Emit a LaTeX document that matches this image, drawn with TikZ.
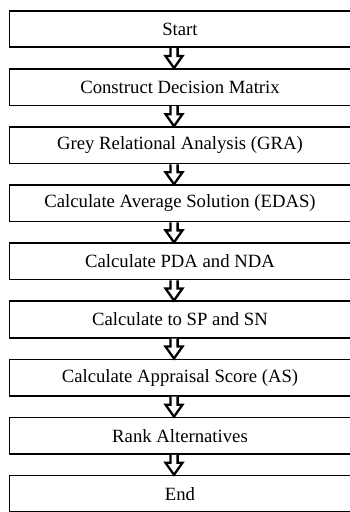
\documentclass[tikz,border=0pt]{standalone}
\usepackage{fontspec}
\setmainfont{Liberation Serif}
\usetikzlibrary{calc, positioning}

\newcommand{\flowarrow}[2]{%
  \path ($(#1.south)+(-6,0)$) coordinate (tail) ($(#2.north)+(-6,0)$) coordinate (tip);
  \draw [blockarrow] ($(tail)+(-3.6,0)$) -- ($(tip)+(-3.6,12)$) -- ($(tip)+(-8.5,12)$) -- (tip)
    -- ($(tip)+(8.5,12)$) -- ($(tip)+(3.6,12)$) -- ($(tail)+(3.6,0)$);
}

\begin{document}
\begin{tikzpicture}[
				x=1pt, y=1pt,
				node distance=58.1pt,
				every node/.style={font=\fontsize{18.7}{22}\selectfont},
				process/.style={rectangle, draw, line width=1.6pt, fill=white, minimum width=341pt, minimum height=36.5pt, inner sep=0pt, align=center},
				blockarrow/.style={line width=2.3pt, fill=white, line join=miter}
				]
				\useasboundingbox (0,0) rectangle (349,-512);
				% Nodes
				\node (start) [process] at (180,-29) {Start};
				\node (matrix) [process, below of=start] {Construct Decision Matrix};
				\node (gra) [process, below of=matrix] {Grey Relational Analysis (GRA)};
				\node (edas) [process, below of=gra] {Calculate Average Solution (EDAS)};
				\node (pdanda) [process, below of=edas] {Calculate PDA and NDA};
				\node (spsn) [process, below of=pdanda] {Calculate to SP and SN};
				\node (score) [process, below of=spsn] {Calculate Appraisal Score (AS)};
				\node (rank) [process, below of=score] {Rank Alternatives};
				\node (stop) [process, below of=rank] {End};
				
				% Arrows
				\flowarrow{start}{matrix}
				\flowarrow{matrix}{gra}
				\flowarrow{gra}{edas}
				\flowarrow{edas}{pdanda}
				\flowarrow{pdanda}{spsn}
				\flowarrow{spsn}{score}
				\flowarrow{score}{rank}
				\flowarrow{rank}{stop}
			\end{tikzpicture}
\end{document}
